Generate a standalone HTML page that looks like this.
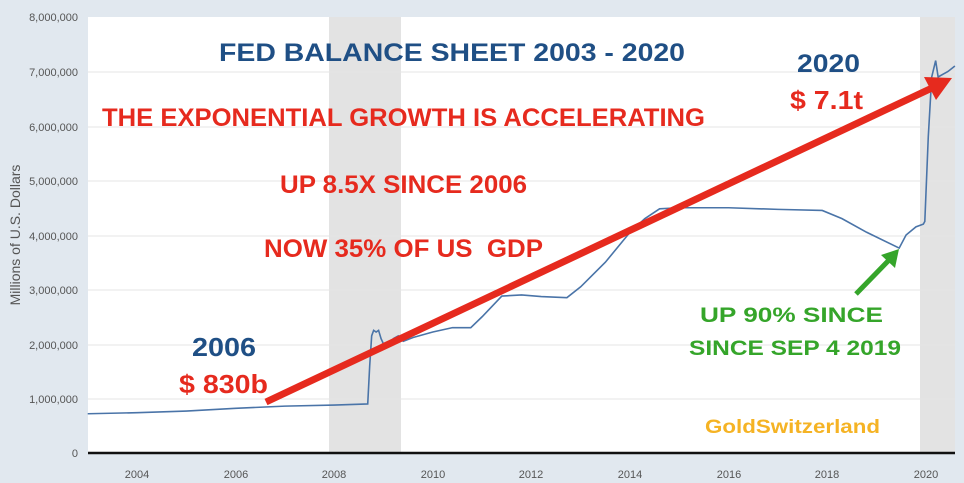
<!DOCTYPE html>
<html><head><style>
body{margin:0;background:#e1e8ef;}
svg{display:block;font-family:"Liberation Sans",sans-serif;}
.r{fill:#e62a1e;font-weight:bold;}
.b{fill:#1f4f85;font-weight:bold;}
.g{fill:#35a52a;font-weight:bold;}
.t{fill:#555;font-size:11px;}
</style></head><body>
<svg width="964" height="483" viewBox="0 0 964 483">
<rect width="964" height="483" fill="#e1e8ef"/>
<rect x="88" y="17" width="867" height="436" fill="#fff"/>
<rect x="329" y="17" width="72" height="436" fill="#e3e3e3"/>
<rect x="920" y="17" width="35" height="436" fill="#e3e3e3"/>
<g stroke="#e6e6e6" stroke-width="1">
<line x1="88" x2="955" y1="72" y2="72"/><line x1="88" x2="955" y1="127" y2="127"/>
<line x1="88" x2="955" y1="181" y2="181"/><line x1="88" x2="955" y1="236" y2="236"/>
<line x1="88" x2="955" y1="290" y2="290"/><line x1="88" x2="955" y1="345" y2="345"/>
<line x1="88" x2="955" y1="399" y2="399"/>
</g>
<g class="t" text-anchor="end">
<text x="78" y="21">8,000,000</text><text x="78" y="76">7,000,000</text>
<text x="78" y="131">6,000,000</text><text x="78" y="185">5,000,000</text>
<text x="78" y="240">4,000,000</text><text x="78" y="294">3,000,000</text>
<text x="78" y="349">2,000,000</text><text x="78" y="403">1,000,000</text>
<text x="78" y="457">0</text>
</g>
<text x="20" y="235" transform="rotate(-90 20 235)" text-anchor="middle" fill="#555" font-size="14">Millions of U.S. Dollars</text>
<g class="t" text-anchor="middle">
<text x="137" y="478">2004</text><text x="236" y="478">2006</text><text x="334" y="478">2008</text>
<text x="433" y="478">2010</text><text x="531" y="478">2012</text><text x="630" y="478">2014</text>
<text x="729" y="478">2016</text><text x="827" y="478">2018</text><text x="926" y="478">2020</text>
</g>
<g transform="translate(137,453) scale(49.3,-54.5) translate(-2004,0)">
<polyline fill="none" stroke="#4a74a8" stroke-width="1.6" vector-effect="non-scaling-stroke" points="2003,0.72 2004,0.74 2005,0.77 2006,0.82 2007,0.86 2008,0.88 2008.68,0.9 2008.72,1.6 2008.76,2.15 2008.8,2.25 2008.85,2.22 2008.9,2.25 2008.95,2.1 2009.0,2.0 2009.1,1.95 2009.2,2.1 2009.3,2.15 2009.4,2.05 2009.6,2.12 2010,2.22 2010.4,2.3 2010.77,2.3 2011.0,2.5 2011.4,2.88 2011.8,2.9 2012.2,2.87 2012.72,2.85 2013.0,3.05 2013.5,3.5 2014.0,4.05 2014.3,4.3 2014.6,4.48 2015,4.5 2016,4.5 2017,4.47 2017.9,4.45 2018.3,4.3 2018.8,4.05 2019.46,3.76 2019.6,4.0 2019.8,4.15 2019.95,4.2 2019.98,4.25 2020.05,5.8 2020.12,6.9 2020.2,7.2 2020.25,6.9 2020.35,6.95 2020.45,7.0 2020.59,7.1"/>
</g>
<line x1="88" x2="955" y1="453" y2="453" stroke="#111" stroke-width="2.5"/>
<line x1="266" y1="402" x2="932" y2="88" stroke="#e62a1e" stroke-width="7"/>
<polygon points="952,78 924,77 936,100" fill="#e62a1e"/>
<line x1="856" y1="294" x2="890" y2="259" stroke="#35a52a" stroke-width="5"/>
<polygon points="899,249 881,255 895,268" fill="#35a52a"/>
<text x="219" y="61" class="b" font-size="25" textLength="466" lengthAdjust="spacingAndGlyphs">FED BALANCE SHEET 2003 - 2020</text>
<text x="102" y="126" class="r" font-size="25" textLength="603" lengthAdjust="spacingAndGlyphs">THE EXPONENTIAL GROWTH IS ACCELERATING</text>
<text x="280" y="193" class="r" font-size="25" textLength="247" lengthAdjust="spacingAndGlyphs">UP 8.5X SINCE 2006</text>
<text x="264" y="257" class="r" font-size="25" textLength="279" lengthAdjust="spacingAndGlyphs" xml:space="preserve">NOW 35% OF US  GDP</text>
<text x="192" y="356" class="b" font-size="26" textLength="64" lengthAdjust="spacingAndGlyphs">2006</text>
<text x="179" y="393" class="r" font-size="26" textLength="89" lengthAdjust="spacingAndGlyphs">$ 830b</text>
<text x="797" y="72" class="b" font-size="25" textLength="63" lengthAdjust="spacingAndGlyphs">2020</text>
<text x="790" y="109" class="r" font-size="26" textLength="73" lengthAdjust="spacingAndGlyphs">$ 7.1t</text>
<text x="700" y="322" class="g" font-size="21" textLength="183" lengthAdjust="spacingAndGlyphs">UP 90% SINCE</text>
<text x="689" y="355" class="g" font-size="21" textLength="212" lengthAdjust="spacingAndGlyphs">SINCE SEP 4 2019</text>
<text x="705" y="433" font-size="19" font-weight="bold" fill="#f5b324" textLength="175" lengthAdjust="spacingAndGlyphs">GoldSwitzerland</text>
</svg>
</body></html>
